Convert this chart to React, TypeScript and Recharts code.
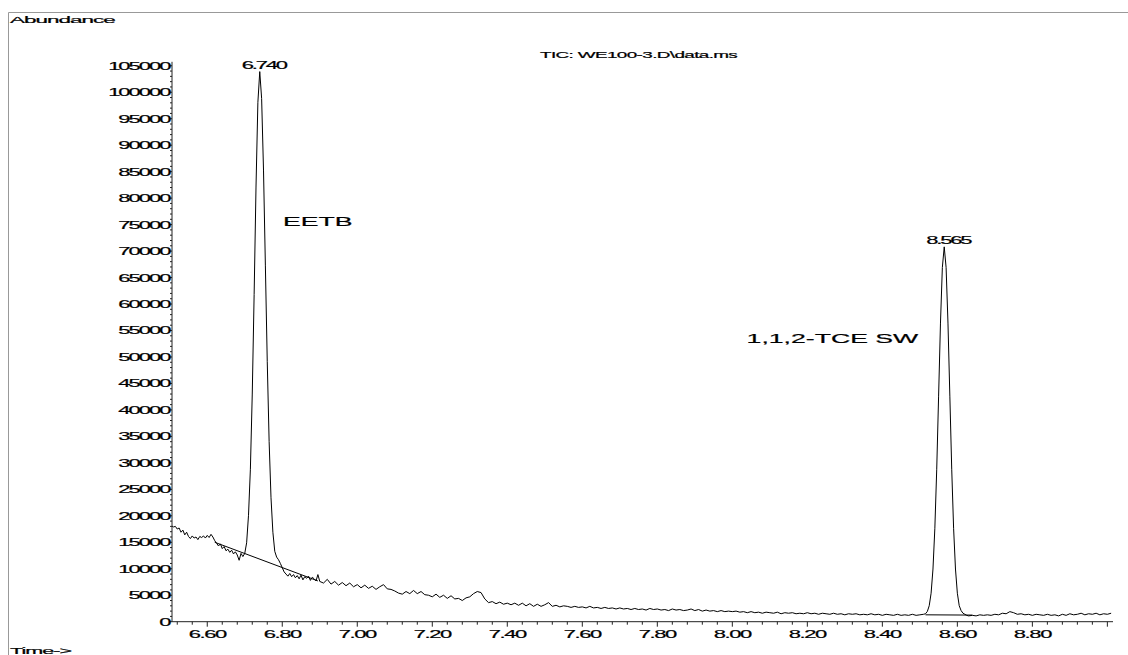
import React from 'react';
import { LineChart, Line, XAxis, YAxis, ReferenceLine, ReferenceDot } from 'recharts';

// TIC trace. Sample times come from segment start + step.
const leftNoiseStart = 6.505; // step 0.005
const leftNoise = [
  18100, 17900, 18000, 17500, 17700, 16900, 17300, 16400, 16900, 16100,
  15700, 16200, 15800, 16000, 15500, 16100, 15900, 16200, 15800, 16300,
  15900, 16500, 16000, 15300, 14800, 14300, 14700, 13800, 14200, 13400,
  13700, 13100, 13500, 12800, 13200, 12600, 11600, 12900, 12300, 12900,
];
const eetbStart = 6.705; // step 0.005
const eetbPeak = [
  14900, 20100, 28800, 43000, 61800, 82100, 98100, 103900, 98800, 85300,
  67200, 49100, 34000, 23400, 16900, 13300, 12200, 11700, 11000, 10200,
];
const tailStart = 6.805; // step 0.005
const eetbTail = [
  9400, 9000, 8600, 9100, 8500, 8900, 8300, 8700, 8100, 8800,
  7900, 8500, 8200, 8600, 7800, 8400, 8100, 7700, 8900, 7600,
];
const midStart = 6.91; // step 0.01
const midNoise = [
  7300, 8000, 7100, 7600, 6900, 7400, 6800, 7300, 6600, 7000,
  6400, 6900, 6300, 6700, 6100, 6600, 7000, 6200, 6100, 5800,
  5400, 5200, 5700, 5300, 5900, 5300, 5700, 5100, 5000, 4700,
  5200, 4600, 5000, 4400, 4900, 4300, 4400, 4000, 4500, 4700,
  5300, 5700, 5500, 4300, 3600, 3800, 3400, 3700, 3300, 3500,
  3200, 3500, 3100, 3500, 3000, 3400, 2900, 3300, 2900, 3200,
  3600, 2900, 3100, 2800, 3000, 2900, 2700, 2900, 2700, 2800,
  2600, 2900, 2600, 2700, 2500, 2700, 2500, 2600, 2400, 2600,
  2400, 2500, 2300, 2500, 2300, 2400, 2200, 2500, 2300, 2400,
  2200, 2300, 2100, 2400, 2200, 2300, 2100, 2200, 2400, 2100,
  2300, 2000, 2200, 2000, 2100, 1900, 2100, 1900, 2000, 1900,
  2000, 1800, 1900, 1700, 1900, 1700, 1800, 1600, 1800, 1700,
  1600, 1800, 1500, 1700, 1600, 1700, 1500, 1600, 1500, 1700,
  1500, 1600, 1400, 1600, 1500, 1400, 1600, 1400, 1500, 1300,
  1500, 1400, 1500, 1300, 1400, 1300, 1500, 1300, 1400, 1200,
  1400, 1300, 1200, 1400, 1200, 1300, 1200, 1400, 1200, 1300,
  1400,
];
const tceStart = 8.515; // step 0.005
const tcePeak = [
  1500, 1940, 3020, 5380, 9950, 17650, 28800, 42600, 56400, 66900,
  70800, 66900, 56400, 42600, 28800, 17650, 9950, 5380, 3020, 2100,
  1600, 1400, 1200,
];
const rightStart = 8.63; // step 0.01
const rightNoise = [
  1100, 1200, 1100, 1300, 1200, 1300, 1200, 1400, 1300, 1600,
  1500, 1900, 1700, 1400, 1500, 1300, 1400, 1200, 1400, 1300,
  1200, 1400, 1200, 1300, 1100, 1400, 1200, 1500, 1300, 1400,
  1600, 1300, 1500, 1400, 1600, 1300, 1500, 1400, 1600,
];

// integration baselines
const eetbBaseT = [6.62, 6.895];
const eetbBaseV = [15000, 7700];
const tceBaseT = [8.515, 8.64];
const tceBaseV = [1300, 1250];

// peak labels / compound names
const peakTimes = [6.74, 8.565];
const peakHeights = [103900, 70800];
const peakLabels = ['6.740', '8.565'];
const compoundNames = ['EETB', '1,1,2-TCE SW'];
const compoundT = [6.802, 8.038];
const compoundV = [74800, 52700];

// axes
const xMajorTicks = [6.6, 6.8, 7.0, 7.2, 7.4, 7.6, 7.8, 8.0, 8.2, 8.4, 8.6, 8.8, 9.0];
const xTickLabels = ['6.60', '6.80', '7.00', '7.20', '7.40', '7.60', '7.80', '8.00', '8.20', '8.40', '8.60', '8.80', ''];
const yMajorTicks = [
  0, 5000, 10000, 15000, 20000, 25000, 30000, 35000, 40000, 45000, 50000,
  55000, 60000, 65000, 70000, 75000, 80000, 85000, 90000, 95000, 100000, 105000,
];
const yTickLabels = yMajorTicks.map((v) => String(v));

const W = 1128;
const H = 655;
const MARGIN = { top: 61.8, right: 15, bottom: 3.3, left: 112 };
const Y_AXIS_W = 60;
const X_AXIS_H = 30;
const AXIS_X = MARGIN.left + Y_AXIS_W;
const AXIS_Y = H - MARGIN.bottom - X_AXIS_H;
const SANS = "'Liberation Sans', Arial, Helvetica, sans-serif";

const seg = (start: number, step: number, vals: number[]) =>
  vals.map((v, i) => ({ t: Math.round((start + i * step) * 1000) / 1000, v }));

const data = [
  ...seg(leftNoiseStart, 0.005, leftNoise),
  ...seg(eetbStart, 0.005, eetbPeak),
  ...seg(tailStart, 0.005, eetbTail),
  ...seg(midStart, 0.01, midNoise),
  ...seg(tceStart, 0.005, tcePeak),
  ...seg(rightStart, 0.01, rightNoise),
].sort((a, b) => a.t - b.t);

const xTicks: number[] = [];
for (let k = 0; k <= 62; k++) xTicks.push(Math.round((6.52 + k * 0.04) * 100) / 100);
const yTicks: number[] = [];
for (let k = 0; k <= 105; k++) yTicks.push(k * 1000);

// the printout font is a wide, squashed sans; fake it with a horizontal stretch
const SText = ({ x, y, text, size, sx, anchor = 'start', spacing = 0 }: any) => (
  <text
    transform={`translate(${x} ${y}) scale(${sx} 1)`}
    fontSize={size}
    fontFamily={SANS}
    textAnchor={anchor}
    letterSpacing={spacing}
    fill="#000"
    stroke="#000"
    strokeWidth={0.2}
  >
    {text}
  </text>
);

const XTick = ({ x, payload }: any) => {
  const v = payload.value;
  const idx = xMajorTicks.findIndex((m) => Math.abs(m - v) < 1e-6);
  const major = idx >= 0;
  return (
    <g>
      <line x1={x} y1={AXIS_Y} x2={x} y2={AXIS_Y + (major ? 5 : 3)} stroke="#222" />
      {major && xTickLabels[idx] && (
        <SText x={x} y={AXIS_Y + 16.6} text={xTickLabels[idx]} size={11} sx={2.0} anchor="middle" spacing={-0.7} />
      )}
    </g>
  );
};

const YTick = ({ y, payload }: any) => {
  const v = payload.value;
  const idx = yMajorTicks.indexOf(v);
  const major = idx >= 0;
  return (
    <g>
      <line x1={AXIS_X} y1={y} x2={AXIS_X - (major ? 3 : 2)} y2={y} stroke="#222" />
      {major && (
        <SText x={AXIS_X - 2.5} y={y + 4} text={yTickLabels[idx]} size={11} sx={2.0} anchor="end" spacing={-1.0} />
      )}
    </g>
  );
};

const App = () => {
  return (
    <div style={{ position: 'absolute', left: 0, top: 0, width: W, height: H, background: '#fff' }}>
      <LineChart width={W} height={H} data={data} margin={MARGIN}>
        <XAxis
          dataKey="t"
          type="number"
          domain={[6.506, 9.015]}
          allowDataOverflow
          ticks={xTicks}
          interval={0}
          height={X_AXIS_H}
          tickLine={false}
          tickSize={0}
          tickMargin={0}
          stroke="#222"
          tick={(p: any) => <XTick {...p} />}
        />
        <YAxis
          type="number"
          domain={[0, 105750]}
          allowDataOverflow
          ticks={yTicks}
          interval={0}
          width={Y_AXIS_W}
          tickLine={false}
          tickSize={0}
          tickMargin={0}
          stroke="#222"
          tick={(p: any) => <YTick {...p} />}
        />
        <ReferenceLine
          segment={[{ x: eetbBaseT[0], y: eetbBaseV[0] }, { x: eetbBaseT[1], y: eetbBaseV[1] }]}
          stroke="#000"
          strokeWidth={1}
        />
        <ReferenceLine
          segment={[{ x: tceBaseT[0], y: tceBaseV[0] }, { x: tceBaseT[1], y: tceBaseV[1] }]}
          stroke="#000"
          strokeWidth={1}
        />
        <Line
          type="linear"
          dataKey="v"
          stroke="#000"
          strokeWidth={1}
          dot={false}
          activeDot={false}
          isAnimationActive={false}
        />
        {peakTimes.map((t, i) => (
          <ReferenceDot
            key={`pk-${i}`}
            x={t}
            y={peakHeights[i]}
            r={1}
            shape={(p: any) => (
              <SText x={p.cx + 4} y={p.cy - 3} text={peakLabels[i]} size={11} sx={2.0} anchor="middle" spacing={-1.1} />
            )}
          />
        ))}
        {compoundNames.map((name, i) => (
          <ReferenceDot
            key={`cn-${i}`}
            x={compoundT[i]}
            y={compoundV[i]}
            r={1}
            shape={(p: any) => <SText x={p.cx} y={p.cy} text={name} size={13} sx={2.05} />}
          />
        ))}
      </LineChart>
      <svg
        width={W}
        height={H}
        style={{ position: 'absolute', left: 0, top: 0, pointerEvents: 'none' }}
      >
        <line x1={8.5} y1={12.5} x2={W} y2={12.5} stroke="#999" />
        <line x1={8.5} y1={12.5} x2={8.5} y2={H} stroke="#999" />
        <SText x={10} y={22.7} text="Abundance" size={9} sx={2.5} spacing={-0.4} />
        <SText x={540} y={58.3} text={'TIC: WE100-3.D\\data.ms'} size={9} sx={2.1} spacing={-0.3} />
        <SText x={10} y={654} text="Time->" size={9} sx={2.4} spacing={-0.4} />
      </svg>
    </div>
  );
};

export default App;
